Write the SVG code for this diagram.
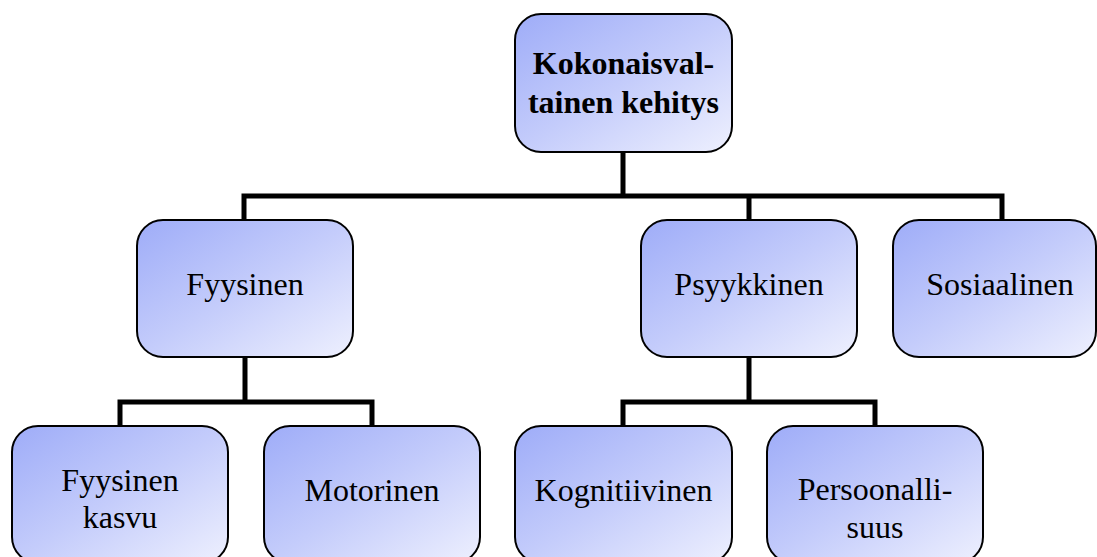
<svg xmlns="http://www.w3.org/2000/svg" width="1097" height="557" viewBox="0 0 1097 557">
<defs>
<linearGradient id="g" x1="0" y1="0" x2="1" y2="1">
<stop offset="0" stop-color="#9eacf8"/>
<stop offset="0.5" stop-color="#c4ccfb"/>
<stop offset="1" stop-color="#eef0fe"/>
</linearGradient>
<style>
.box{fill:url(#g);stroke:#000;stroke-width:2}
.t{font-size:32px;fill:#000;text-anchor:middle}
.b{font-weight:bold}
.c{fill:none;stroke:#000;stroke-width:5}
</style>
</defs>
<rect width="1097" height="557" fill="#fff"/>
<g id="connectors">
<path class="c" d="M623 152V196M244 220V196H1002V220M749 196V220"/>
<path class="c" d="M245 357V402M120 426V402H372V426"/>
<path class="c" d="M749 357V402M623 426V402H875V426"/>
</g>
<g font-family="Liberation Serif, Times New Roman, serif">
<g id="n0"><rect class="box" x="515" y="14" width="217" height="138" rx="26"/>
<text class="t b" x="623.5" y="74">Kokonaisval-</text><text class="t b" x="623.5" y="113">tainen kehitys</text></g>
<g id="n1"><rect class="box" x="137" y="220" width="216" height="137" rx="26"/>
<text class="t" x="245" y="295">Fyysinen</text></g>
<g id="n2"><rect class="box" x="641" y="220" width="216" height="137" rx="26"/>
<text class="t" x="749" y="295">Psyykkinen</text></g>
<g id="n3"><rect class="box" x="893" y="220" width="203" height="137" rx="26"/>
<text class="t" x="1000" y="295">Sosiaalinen</text></g>
<g id="n4"><rect class="box" x="12" y="426" width="216" height="137" rx="26"/>
<text class="t" x="120" y="491">Fyysinen</text><text class="t" x="120" y="528">kasvu</text></g>
<g id="n5"><rect class="box" x="264" y="426" width="216" height="137" rx="26"/>
<text class="t" x="372" y="501">Motorinen</text></g>
<g id="n6"><rect class="box" x="515" y="426" width="217" height="137" rx="26"/>
<text class="t" x="623.5" y="501">Kognitiivinen</text></g>
<g id="n7"><rect class="box" x="767" y="426" width="216" height="137" rx="26"/>
<text class="t" x="875" y="500">Persoonalli-</text><text class="t" x="875" y="538">suus</text></g>
</g>
</svg>
